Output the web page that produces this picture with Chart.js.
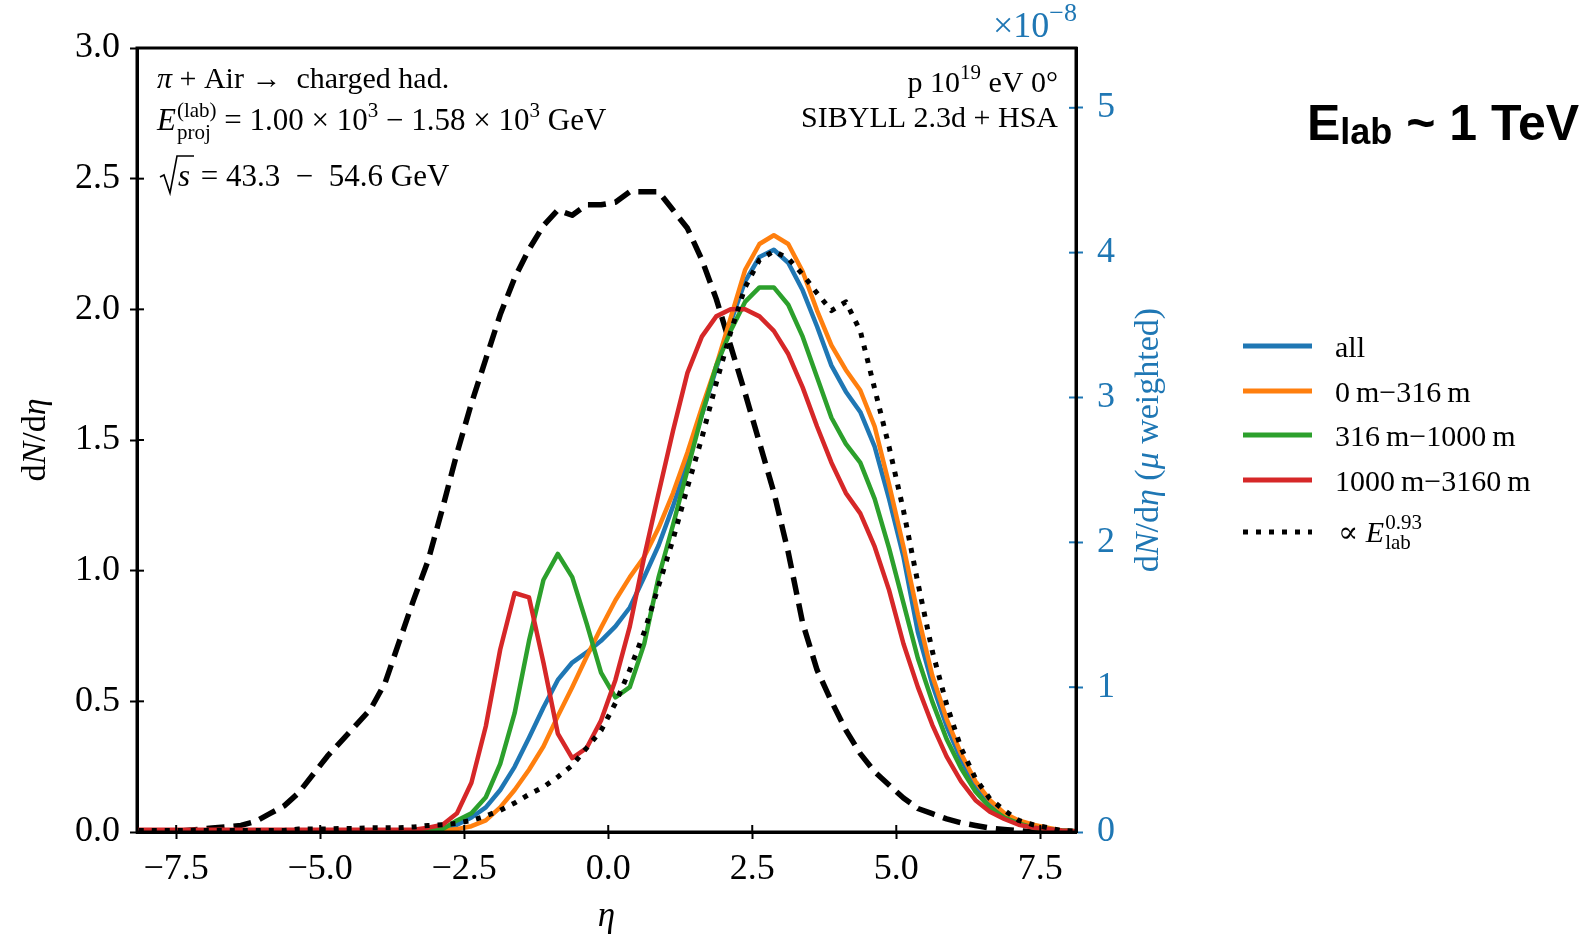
<!DOCTYPE html>
<html>
<head>
<meta charset="utf-8">
<script src="https://cdn.jsdelivr.net/npm/chart.js@4.4.1/dist/chart.umd.min.js"></script>
<style>
  html, body { margin: 0; padding: 0; background: #fff; }
  canvas { display: block; }
</style>
</head>
<body>
<canvas id="chart" width="1589" height="935"></canvas>
<script>
// eta bin centres
const ETA = [
  -8.375, -8.125,
  -7.875, -7.625, -7.375, -7.125, -6.875, -6.625, -6.375, -6.125, -5.875, -5.625,
  -5.375, -5.125, -4.875, -4.625, -4.375, -4.125, -3.875, -3.625, -3.375, -3.125,
  -2.875, -2.625, -2.375, -2.125, -1.875, -1.625, -1.375, -1.125, -0.875, -0.625,
  -0.375, -0.125, 0.125, 0.375, 0.625, 0.875, 1.125, 1.375, 1.625, 1.875,
  2.125, 2.375, 2.625, 2.875, 3.125, 3.375, 3.625, 3.875, 4.125, 4.375,
  4.625, 4.875, 5.125, 5.375, 5.625, 5.875, 6.125, 6.375, 6.625, 6.875,
  7.125, 7.375, 7.625, 7.875,
  8.125, 8.375
];

// pi + Air -> charged hadrons, dN/deta (left axis)
const HADRONS = [
  0, 0,
  0.00, 0.00, 0.005, 0.01, 0.015, 0.02, 0.025, 0.04, 0.07, 0.10,
  0.15, 0.22, 0.29, 0.35, 0.41, 0.47, 0.57, 0.73, 0.89, 1.04,
  1.24, 1.45, 1.64, 1.81, 1.98, 2.12, 2.23, 2.32, 2.38, 2.36,
  2.40, 2.40, 2.41, 2.45, 2.45, 2.45, 2.38, 2.31, 2.19, 2.04,
  1.86, 1.68, 1.49, 1.30, 1.07, 0.80, 0.62, 0.50, 0.39, 0.30,
  0.23, 0.18, 0.13, 0.09, 0.07, 0.05, 0.035, 0.025, 0.015, 0.01,
  0.005, 0.0, 0.0, 0.0,
  0, 0
];

// muon weighted dN/deta, units of 1e-8 (right axis)
const MU_ALL = [
  0.01, 0.01,
  0.01, 0.01, 0.01, 0.01, 0.01, 0.01, 0.01, 0.01, 0.01, 0.01,
  0.01, 0.01, 0.01, 0.01, 0.01, 0.01, 0.01, 0.01, 0.01, 0.01,
  0.02, 0.05, 0.10, 0.17, 0.29, 0.45, 0.65, 0.86, 1.05, 1.17,
  1.24, 1.32, 1.42, 1.55, 1.76, 1.98, 2.25, 2.55, 2.88, 3.20,
  3.52, 3.80, 3.97, 4.02, 3.93, 3.74, 3.49, 3.22, 3.04, 2.90,
  2.66, 2.30, 1.90, 1.38, 1.02, 0.73, 0.50, 0.32, 0.20, 0.12,
  0.07, 0.04, 0.02, 0.01,
  0.005, 0.005
];

const MU_0_316 = [
  0.005, 0.005,
  0.005, 0.005, 0.005, 0.005, 0.005, 0.005, 0.005, 0.005, 0.005, 0.005,
  0.005, 0.005, 0.005, 0.005, 0.005, 0.005, 0.005, 0.005, 0.005, 0.005,
  0.01, 0.02, 0.04, 0.08, 0.17, 0.29, 0.43, 0.59, 0.80, 1.00,
  1.21, 1.41, 1.60, 1.76, 1.90, 2.10, 2.34, 2.62, 2.93, 3.22,
  3.55, 3.88, 4.06, 4.12, 4.06, 3.87, 3.60, 3.36, 3.19, 3.05,
  2.80, 2.40, 1.97, 1.50, 1.08, 0.78, 0.54, 0.35, 0.22, 0.13,
  0.08, 0.05, 0.03, 0.01,
  0.005, 0.005
];

const MU_316_1000 = [
  0.01, 0.01,
  0.01, 0.01, 0.01, 0.01, 0.01, 0.01, 0.01, 0.01, 0.01, 0.01,
  0.01, 0.01, 0.01, 0.01, 0.01, 0.01, 0.01, 0.01, 0.01, 0.01,
  0.02, 0.08, 0.13, 0.24, 0.47, 0.82, 1.32, 1.74, 1.92, 1.76,
  1.44, 1.10, 0.93, 1.00, 1.30, 1.76, 2.12, 2.50, 2.88, 3.22,
  3.46, 3.66, 3.76, 3.76, 3.64, 3.42, 3.14, 2.86, 2.68, 2.55,
  2.30, 1.96, 1.58, 1.20, 0.90, 0.64, 0.44, 0.28, 0.17, 0.10,
  0.06, 0.03, 0.02, 0.01,
  0.005, 0.005
];

const MU_1000_3160 = [
  0.015, 0.015,
  0.015, 0.015, 0.015, 0.015, 0.015, 0.015, 0.015, 0.015, 0.015, 0.015,
  0.015, 0.015, 0.015, 0.015, 0.015, 0.015, 0.015, 0.015, 0.015, 0.03,
  0.05, 0.13, 0.34, 0.73, 1.26, 1.65, 1.62, 1.17, 0.68, 0.51,
  0.58, 0.77, 1.05, 1.42, 1.90, 2.34, 2.77, 3.17, 3.42, 3.56,
  3.61, 3.61, 3.56, 3.46, 3.30, 3.07, 2.80, 2.55, 2.34, 2.20,
  1.97, 1.67, 1.30, 1.00, 0.74, 0.52, 0.35, 0.22, 0.14, 0.09,
  0.05, 0.03, 0.02, 0.01,
  0.005, 0.005
];

// proportional to E_lab^0.93
const MU_SCALED = [
  0.01, 0.01,
  0.01, 0.01, 0.01, 0.01, 0.01, 0.01, 0.01, 0.01, 0.01, 0.01,
  0.02, 0.02, 0.02, 0.025, 0.025, 0.03, 0.03, 0.03, 0.035, 0.045,
  0.05, 0.06, 0.08, 0.11, 0.15, 0.20, 0.26, 0.31, 0.38, 0.46,
  0.58, 0.70, 0.89, 1.12, 1.38, 1.70, 2.02, 2.38, 2.72, 3.10,
  3.45, 3.76, 3.95, 4.01, 3.96, 3.85, 3.72, 3.60, 3.66, 3.46,
  3.06, 2.66, 2.22, 1.72, 1.25, 0.88, 0.58, 0.37, 0.23, 0.15,
  0.08, 0.05, 0.03, 0.01,
  0.005, 0.005
];

const X_TICKS = [-7.5, -5.0, -2.5, 0.0, 2.5, 5.0, 7.5];
const Y_TICKS = [0.0, 0.5, 1.0, 1.5, 2.0, 2.5, 3.0];
const Y2_TICKS = [0, 1, 2, 3, 4, 5];

const SERIF = '"Liberation Serif", "DejaVu Serif", serif';
const SANS = '"Liberation Sans", Arial, sans-serif';
const BLUE = '#1f77b4';

const pts = ys => ETA.map((x, i) => ({ x: x, y: ys[i] }));
const minus = s => s.replace('-', '\u2212');

function font(size, style) {
  return (style || '') + ' ' + size + 'px ' + SERIF;
}

function runWidth(ctx, r) {
  if (r.sup !== undefined || r.sub !== undefined) {
    ctx.font = font(r.size);
    return Math.max(ctx.measureText(r.sup || '').width, ctx.measureText(r.sub || '').width);
  }
  ctx.font = r.font || font(r.size, r.it ? 'italic' : '');
  return ctx.measureText(r.t).width;
}

// draw a row of text pieces (with super/subscripts) starting at x on baseline y
function drawRich(ctx, x, y, runs, align) {
  let total = 0;
  runs.forEach(r => { total += runWidth(ctx, r) + (r.pad || 0); });
  let cx = align === 'right' ? x - total : align === 'center' ? x - total / 2 : x;
  ctx.textAlign = 'left';
  ctx.textBaseline = 'alphabetic';
  runs.forEach(r => {
    const w = runWidth(ctx, r);
    if (r.sup !== undefined || r.sub !== undefined) {
      ctx.font = font(r.size);
      if (r.sup) ctx.fillText(r.sup, cx, y - r.up);
      if (r.sub) ctx.fillText(r.sub, cx, y + r.down);
    } else {
      ctx.font = r.font || font(r.size, r.it ? 'italic' : '');
      ctx.fillText(r.t, cx, y);
    }
    cx += w + (r.pad || 0);
  });
  return cx;
}

function seg(ctx, x0, y0, x1, y1) {
  ctx.beginPath();
  ctx.moveTo(x0, y0);
  ctx.lineTo(x1, y1);
  ctx.stroke();
}

const LEGEND_ROWS = [346, 391, 435, 480, 532];

const decor = {
  id: 'decor',
  afterDraw(chart) {
    const ctx = chart.ctx;
    const a = chart.chartArea;
    const sx = chart.scales.x, sy = chart.scales.y, sy2 = chart.scales.y2;
    ctx.save();

    // inner halves of the tick marks
    ctx.lineWidth = 2;
    ctx.strokeStyle = '#000';
    X_TICKS.forEach(v => { const p = sx.getPixelForValue(v); seg(ctx, p, a.bottom, p, a.bottom - 7); });
    Y_TICKS.forEach(v => { const p = sy.getPixelForValue(v); seg(ctx, a.left, p, a.left + 7, p); });
    ctx.strokeStyle = BLUE;
    Y2_TICKS.forEach(v => { const p = sy2.getPixelForValue(v); seg(ctx, a.right, p, a.right - 7, p); });

    // frame
    ctx.strokeStyle = '#000';
    ctx.lineWidth = 3;
    ctx.strokeRect(a.left, a.top, a.right - a.left, a.bottom - a.top);

    ctx.fillStyle = '#000';
    // top-left annotation
    drawRich(ctx, 157, 88, [
      { t: 'π', it: true, size: 30 },
      { t: ' + Air → ', size: 30 },
      { t: ' charged had.', size: 30 }
    ]);
    drawRich(ctx, 157, 130, [
      { t: 'E', it: true, size: 31, pad: 1 },
      { sup: '(lab)', sub: 'proj', size: 21, up: 13, down: 9 },
      { t: ' = 1.00 × 10', size: 31 },
      { sup: '3', size: 21, up: 13 },
      { t: ' − 1.58 × 10', size: 31 },
      { sup: '3', size: 21, up: 13 },
      { t: ' GeV', size: 31 }
    ]);
    ctx.lineWidth = 1.6;
    ctx.beginPath();
    ctx.moveTo(160, 177);
    ctx.lineTo(164, 175);
    ctx.lineTo(170, 193);
    ctx.lineTo(177, 156);
    ctx.lineTo(194, 156);
    ctx.stroke();
    drawRich(ctx, 178, 186, [
      { t: 's', it: true, size: 31, pad: 3 },
      { t: ' = 43.3  −  54.6 GeV', size: 31 }
    ]);

    // top-right annotation
    drawRich(ctx, 1058, 92, [
      { t: 'p 10', size: 30 },
      { sup: '19', size: 21, up: 13 },
      { t: ' eV 0°', size: 30 }
    ], 'right');
    drawRich(ctx, 1058, 127, [{ t: 'SIBYLL 2.3d + HSA', size: 30 }], 'right');

    // offset label of the right axis
    ctx.fillStyle = BLUE;
    drawRich(ctx, 1077, 37, [
      { t: '×10', size: 36 },
      { sup: '−8', size: 26, up: 16 }
    ], 'right');

    // axis titles
    const midY = (a.top + a.bottom) / 2;
    ctx.fillStyle = '#000';
    ctx.save();
    ctx.translate(45, midY);
    ctx.rotate(-Math.PI / 2);
    drawRich(ctx, 0, 0, [
      { t: 'd', size: 34 }, { t: 'N', it: true, size: 34 }, { t: '/d', size: 34 }, { t: 'η', it: true, size: 34 }
    ], 'center');
    ctx.restore();

    ctx.fillStyle = BLUE;
    ctx.save();
    ctx.translate(1158, midY);
    ctx.rotate(-Math.PI / 2);
    drawRich(ctx, 0, 0, [
      { t: 'd', size: 34 }, { t: 'N', it: true, size: 34 }, { t: '/d', size: 34 }, { t: 'η', it: true, size: 34 },
      { t: ' (', size: 34 }, { t: 'μ', it: true, size: 34 }, { t: ' weighted)', size: 34 }
    ], 'center');
    ctx.restore();

    ctx.fillStyle = '#000';
    drawRich(ctx, (a.left + a.right) / 2, 926, [{ t: 'η', it: true, size: 35 }], 'center');

    // legend
    const items = chart.data.datasets.filter(d => d.inLegend !== false);
    items.forEach((d, i) => {
      const y = LEGEND_ROWS[i];
      ctx.strokeStyle = d.borderColor;
      ctx.lineWidth = 5;
      ctx.lineCap = 'butt';
      ctx.setLineDash(d.borderDash || []);
      seg(ctx, 1243, y, 1312, y);
      ctx.setLineDash([]);
      ctx.fillStyle = '#000';
      if (d.richLabel) {
        drawRich(ctx, 1338, y + 10, d.richLabel);
      } else {
        drawRich(ctx, 1335, y + 11, [{ t: d.label, size: 30 }]);
      }
    });

    // energy tag
    ctx.fillStyle = '#000';
    ctx.textAlign = 'left';
    ctx.textBaseline = 'alphabetic';
    ctx.font = 'bold 50px ' + SANS;
    ctx.fillText('E', 1307, 140);
    let tx = 1307 + ctx.measureText('E').width;
    ctx.font = 'bold 36px ' + SANS;
    ctx.fillText('lab', tx, 144);
    tx += ctx.measureText('lab').width;
    ctx.font = 'bold 50px ' + SANS;
    ctx.fillText(' ~ 1 TeV', tx, 140);

    ctx.restore();
  }
};

new Chart(document.getElementById('chart'), {
  type: 'line',
  data: {
    datasets: [
      {
        label: 'π + Air → charged had.',
        data: pts(HADRONS),
        yAxisID: 'y',
        borderColor: '#000',
        borderWidth: 5.5,
        borderDash: [18, 9],
        order: 6,
        inLegend: false
      },
      { label: 'all', data: pts(MU_ALL), yAxisID: 'y2', borderColor: '#1f77b4', borderWidth: 4.5, order: 5 },
      { label: '0\u2009m\u2212316\u2009m', data: pts(MU_0_316), yAxisID: 'y2', borderColor: '#ff7f0e', borderWidth: 4.5, order: 4 },
      { label: '316\u2009m\u22121000\u2009m', data: pts(MU_316_1000), yAxisID: 'y2', borderColor: '#2ca02c', borderWidth: 4.5, order: 3 },
      { label: '1000\u2009m\u22123160\u2009m', data: pts(MU_1000_3160), yAxisID: 'y2', borderColor: '#d62728', borderWidth: 4.5, order: 2 },
      {
        label: '∝ E_lab^0.93',
        data: pts(MU_SCALED),
        yAxisID: 'y2',
        borderColor: '#000',
        borderWidth: 5,
        borderDash: [5, 8],
        order: 1,
        richLabel: [
          { t: '∝ ', size: 30 },
          { t: 'E', it: true, size: 30, pad: 1 },
          { sup: '0.93', sub: 'lab', size: 21, up: 13, down: 7 }
        ]
      }
    ]
  },
  options: {
    responsive: false,
    animation: false,
    devicePixelRatio: 1,
    layout: { padding: { left: 0, right: 413, top: 48, bottom: 0 } },
    elements: { point: { radius: 0 }, line: { tension: 0, fill: false, borderCapStyle: 'butt', borderJoinStyle: 'round' } },
    plugins: { legend: { display: false }, tooltip: { enabled: false } },
    scales: {
      x: {
        type: 'linear',
        min: -8.18,
        max: 8.12,
        afterBuildTicks: s => { s.ticks = X_TICKS.map(v => ({ value: v })); },
        afterFit: s => { s.height = 103; },
        ticks: {
          autoSkip: false,
          maxRotation: 0,
          padding: 9,
          color: '#000',
          font: { family: SERIF, size: 36 },
          callback: v => minus(v.toFixed(1))
        },
        grid: { drawOnChartArea: false, tickLength: 7, tickWidth: 2, color: '#000' },
        border: { color: '#000', width: 3 }
      },
      y: {
        position: 'left',
        min: 0,
        max: 3.0,
        afterBuildTicks: s => { s.ticks = Y_TICKS.map(v => ({ value: v })); },
        afterFit: s => { s.width = 137; },
        ticks: {
          padding: 10,
          color: '#000',
          font: { family: SERIF, size: 36 },
          callback: v => v.toFixed(1)
        },
        grid: { drawOnChartArea: false, tickLength: 7, tickWidth: 2, color: '#000' },
        border: { color: '#000', width: 3 }
      },
      y2: {
        position: 'right',
        min: 0,
        max: 5.413,
        afterBuildTicks: s => { s.ticks = Y2_TICKS.map(v => ({ value: v })); },
        afterFit: s => { s.width = 100; },
        ticks: {
          padding: 14,
          color: BLUE,
          font: { family: SERIF, size: 36 },
          callback: v => String(v)
        },
        grid: { drawOnChartArea: false, tickLength: 7, tickWidth: 2, color: BLUE },
        border: { color: '#000', width: 3 }
      }
    }
  },
  plugins: [decor]
});
</script>
</body>
</html>
